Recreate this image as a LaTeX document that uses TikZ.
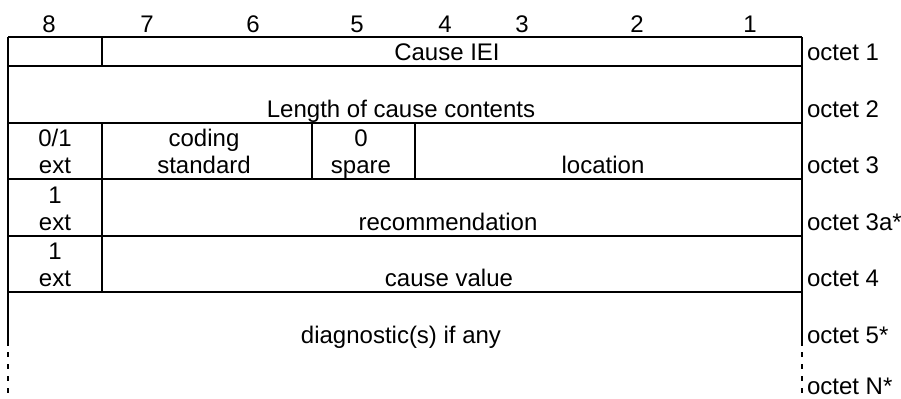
\documentclass[tikz,border=0pt]{standalone}
\usepackage{fontspec}
\setmainfont{Liberation Sans}

\begin{document}
\begin{tikzpicture}[x=0.5pt, y=-0.5pt, line width=1pt,
        every node/.style={font=\fontsize{12}{13.5}\selectfont, inner sep=0pt,
                           anchor=base, align=center}]
  \useasboundingbox (0,0) rectangle (901,398);
  \node (bit8) at (49,32) {8};
  \node (bit7) at (147,32) {7};
  \node (bit6) at (253,32) {6};
  \node (bit5) at (357,32) {5};
  \node (bit4) at (445,32) {4};
  \node (bit3) at (522,32) {3};
  \node (bit2) at (637,32) {2};
  \node (bit1) at (750,32) {1};
  \draw (8,37) -- (802,37);
  \draw (8,66) -- (802,66);
  \draw (8,123) -- (802,123);
  \draw (8,179) -- (802,179);
  \draw (8,236) -- (802,236);
  \draw (8,292) -- (802,292);
  \draw (8,37) -- (8,346);
  \draw (802,37) -- (802,346);
  \draw[dash pattern=on 2.5pt off 3.5pt] (8,352) -- (8,398);
  \draw[dash pattern=on 2.5pt off 3.5pt] (802,352) -- (802,398);
  \draw (102,37) -- (102,66);
  \draw (102,123) -- (102,292);
  \draw (312,123) -- (312,179);
  \draw (415,123) -- (415,179);
  \node (iei) at (447,60) {Cause IEI};
  \node (len) at (401,117) {Length of cause contents};
  \node (ext3) at (55,173) {0/1\\ext};
  \node (coding) at (204,173) {coding\\standard};
  \node (spare) at (361,173) {0\\spare};
  \node (loc) at (603,173) {location};
  \node (ext3a) at (55,230) {1\\ext};
  \node (recom) at (448,230) {recommendation};
  \node (ext4) at (55,286) {1\\ext};
  \node (cval) at (449,286) {cause value};
  \node (diag) at (401,343) {diagnostic(s) if any};
  \node[anchor=base west] (oct1) at (806,60) {octet 1};
  \node[anchor=base west] (oct2) at (806,117) {octet 2};
  \node[anchor=base west] (oct3) at (806,173) {octet 3};
  \node[anchor=base west] (oct3a) at (806,230) {octet 3a*};
  \node[anchor=base west] (oct4) at (806,286) {octet 4};
  \node[anchor=base west] (oct5) at (806,343) {octet 5*};
  \node[anchor=base west] (octN) at (806,394) {octet N*};
\end{tikzpicture}
\end{document}
